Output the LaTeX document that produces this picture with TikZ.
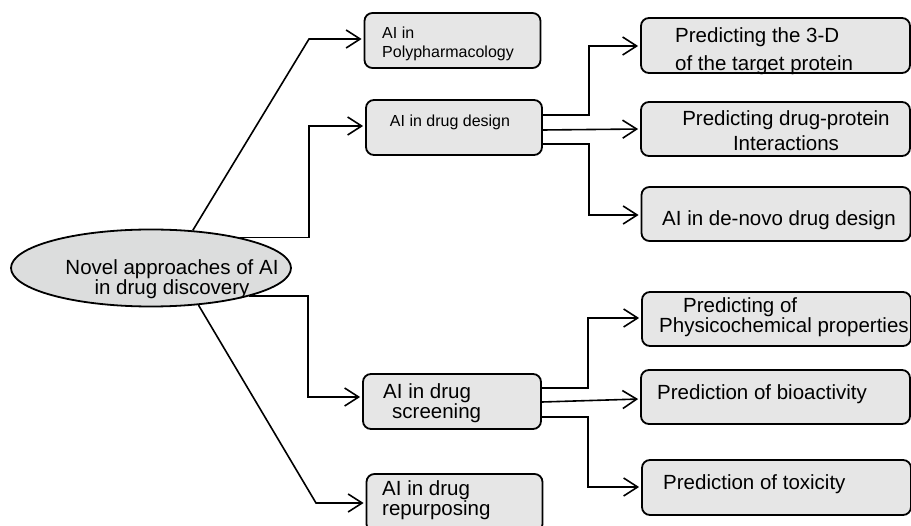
\documentclass[tikz,border=0pt]{standalone}
\usepackage{fontspec}
\setmainfont{Liberation Sans}
\usetikzlibrary{arrows.meta,shapes.geometric}
\definecolor{boxfill}{HTML}{E6E6E6}
\definecolor{ellfill}{HTML}{DCDDDD}
\tikzset{
  box/.style={draw=black, line width=1.8pt, rounded corners=8pt, fill=boxfill, inner sep=0pt, minimum height=55pt},
  smallbox/.style={box, minimum width=176pt},
  bigbox/.style={box, minimum width=269pt},
  conn/.style={line width=1.6pt, -{Straight Barb[length=14pt,width=18pt]}, shorten >=2pt},
  lbl/.style={inner sep=0pt, align=left, text=black},
  bigtxt/.style={font=\fontsize{20.5}{20}\selectfont},
  smalltxt/.style={font=\fontsize{16}{19}\selectfont},
}
\begin{document}
\begin{tikzpicture}[x=1pt,y=-1pt]
\useasboundingbox (0,0) rectangle (911,526);

% central ellipse
\node[ellipse, draw=black, line width=1.8pt, fill=ellfill, minimum width=280pt, minimum height=77pt, inner sep=0pt] (ell) at (151,268) {};
\node[lbl, bigtxt, align=center] (tell) at (172,279) {Novel approaches of AI\\in drug discovery};

% first level boxes
\node[smallbox] (poly) at (452.5,40.5) {};
\node[lbl, smalltxt, anchor=west] (tpoly) at (382,44) {AI in\\Polypharmacology};

\node[smallbox] (dd) at (454,127.5) {};
\node[lbl, smalltxt] (tdd) at (450,122.5) {AI in drug design};

\node[smallbox, minimum width=178pt] (scr) at (452,401.5) {};
\node[lbl, bigtxt, anchor=west, font=\fontsize{20.5}{19}\selectfont] (tscr) at (383,403.5) {AI in drug\\\hspace*{9pt}screening};

\node[smallbox, minimum height=58pt] (rep) at (454.5,503) {};
\node[lbl, bigtxt, anchor=west] (trep) at (382,500) {AI in drug\\repurposing};

% second level boxes
\node[bigbox] (b3) at (775.5,45.5) {};
\node[lbl, bigtxt, anchor=west, font=\fontsize{20.5}{28}\selectfont] (tb3) at (675,51) {Predicting the 3-D\\of the target protein};

\node[bigbox, minimum height=54pt] (b4) at (775.5,129) {};
\node[lbl, bigtxt, align=center, font=\fontsize{20.5}{25}\selectfont] (tb4) at (786,130.5) {Predicting drug-protein\\Interactions};

\node[bigbox, minimum height=54pt] (b5) at (776,214) {};
\node[lbl, bigtxt, anchor=west] (tb5) at (662,220) {AI in de-novo drug design};

\node[bigbox, minimum height=54pt] (b6) at (776.5,319) {};
\node[lbl, bigtxt, anchor=west] (tb6) at (659,317) {\hspace*{24pt}Predicting of\\Physicochemical properties};

\node[bigbox, minimum height=54pt] (b7) at (775.5,397) {};
\node[lbl, bigtxt, anchor=west] (tb7) at (657,394) {Prediction of bioactivity};

\node[bigbox] (b8) at (776.5,487.5) {};
\node[lbl, bigtxt, anchor=west] (tb8) at (663,484) {Prediction of toxicity};

% connectors from the ellipse
\draw[conn] (ell.42) -- (309,39) -- (poly.west |- 0,39);
\draw[conn] (ell.19) -| (309,126) -- (dd.west |- 0,126);
\draw[conn] (ell.-16) -| (308,397) -- (scr.west |- 0,397);
\draw[conn] (ell.-38) -- (316,503) -- (rep.west |- 0,503);

% connectors from drug design
\draw[conn] (dd.east |- 0,115) -| (589,46) -- (b3.west |- 0,46);
\draw[conn] (dd.east |- 0,130) -- (b4.west |- 0,129);
\draw[conn] (dd.east |- 0,144) -| (589,215) -- (b5.west |- 0,215);

% connectors from drug screening
\draw[conn] (scr.east |- 0,388) -| (588,318) -- (b6.west |- 0,318);
\draw[conn] (scr.east |- 0,402) -- (b7.west |- 0,399);
\draw[conn] (scr.east |- 0,417) -| (588,487) -- (b8.west |- 0,487);
\end{tikzpicture}
\end{document}
